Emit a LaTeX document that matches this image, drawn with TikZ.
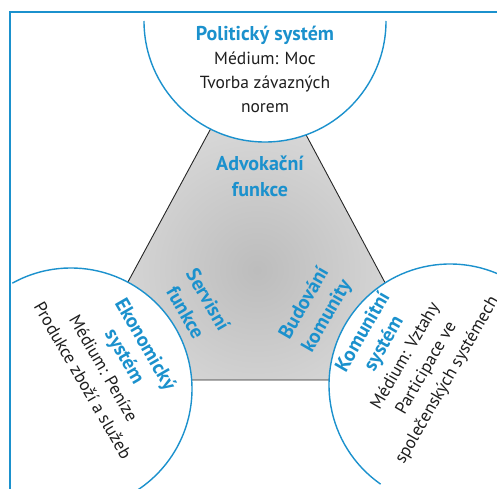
\documentclass[tikz,border=0pt]{standalone}
\usepackage{fontspec}
\setmainfont{PT Sans}
\usetikzlibrary{positioning}
\definecolor{sysblue}{RGB}{27,145,205}
\definecolor{txtdark}{RGB}{30,30,30}
\newcommand{\systitle}[1]{{\color{sysblue}\fontsize{20}{24}\selectfont\bfseries #1}}

\begin{document}
\begin{tikzpicture}[x=1pt,y=1pt,
    rim/.style={draw=sysblue, line width=1.4},
    systext/.style={align=center, text=txtdark, font=\fontsize{17.5}{24}\selectfont},
    funtext/.style={align=center, text=sysblue, font=\fontsize{20}{26}\selectfont\bfseries}]
    \useasboundingbox (0,0) rectangle (497,488);
    \clip (0,0) rectangle (497,488);
    % triangle with shading
    \begin{scope}
        \clip (257,445) -- (75,108) -- (437,108) -- cycle;
        \shade[inner color=black!26, outer color=black!6] (257,218) circle (280);
    \end{scope}
    \draw[black!85, line width=0.9] (257,445) -- (75,108) -- (437,108) -- cycle;
    % the three systems
    \fill[white] (265,467) circle (121);
    \fill[white] (71,99) circle (121);
    \fill[white] (450,103) circle (121);
    \draw[rim] (144,467) arc (180:360:121);
    \draw[rim] (71,99) ++(119:121) arc (119:-70:121);
    \draw[rim] (450,103) ++(235:121) arc (235:-10:121);
    % frame
    \draw[sysblue, line width=2] (10,-5) -- (10,476) -- (505,476);
    % texts
    \node[systext] (polit) at (265,419) {\systitle{Politický systém}\\Médium: Moc\\Tvorba závazných\\norem};
    \node[systext, rotate=-60] (ekon) at (115,126) {\systitle{Ekonomický}\\\systitle{systém}\\Médium: Peníze\\Produkce zboží a služeb};
    \node[systext, rotate=60] (komun) at (405,132) {\systitle{Komunitní}\\\systitle{systém}\\Médium: Vztahy\\Participace ve\\společenských systémech};
    \node[funtext] (advok) at (260,312) {Advokační\\funkce};
    \node[funtext, rotate=-60] (serv) at (197,182) {Servisní\\funkce};
    \node[funtext, rotate=60] (budov) at (316,178) {Budování\\komunity};
\end{tikzpicture}
\end{document}
